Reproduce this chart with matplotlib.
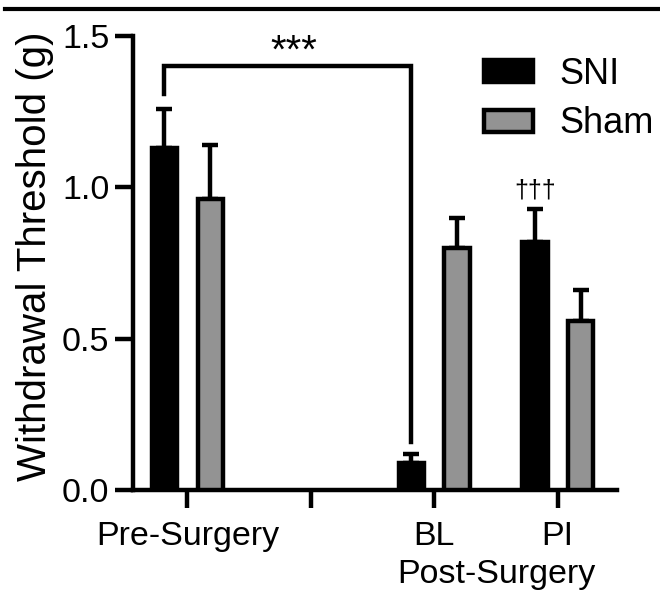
import matplotlib
matplotlib.use("Agg")
import matplotlib.pyplot as plt
from matplotlib.patches import Patch
from matplotlib.lines import Line2D
import matplotlib.transforms as mtransforms
import numpy as np

plt.rcParams['font.family'] = ['Liberation Sans', 'DejaVu Sans']

categories = ["Pre-Surgery", "", "BL", "PI"]
cat_positions = [0, 2, 3]          # Pre-Surgery, BL, PI (slot 1 is an empty gap)
sni_mean = [1.13, 0.09, 0.82]
sni_sem = [0.13, 0.03, 0.11]
sham_mean = [0.96, 0.80, 0.56]
sham_sem = [0.18, 0.10, 0.10]
series_labels = ["SNI", "Sham"]
ylabel = "Withdrawal Threshold (g)"
group_label = "Post-Surgery"
yticks = [0.0, 0.5, 1.0, 1.5]
ytick_labels = ["0.0", "0.5", "1.0", "1.5"]

W, H = 660, 595
fig = plt.figure(figsize=(W / 100, H / 100), dpi=100)
ax = fig.add_axes([133 / W, 1 - 490 / H, (617 - 133) / W, (490 - 36) / H])

lw = 3.2
off = 0.185
bw = 0.205
gray = "#939393"
fs = 24.5
x = np.array(cat_positions, dtype=float)

ax.bar(x - off, sni_mean, width=bw, color="black", edgecolor="black", linewidth=lw, zorder=3)
ax.bar(x + off, sham_mean, width=bw, color=gray, edgecolor="black", linewidth=lw, zorder=3)
ax.errorbar(x - off, sni_mean, yerr=[np.zeros(3), sni_sem], fmt="none", ecolor="black",
            elinewidth=lw, capsize=5.5, capthick=lw, zorder=2)
ax.errorbar(x + off, sham_mean, yerr=[np.zeros(3), sham_sem], fmt="none", ecolor="black",
            elinewidth=lw, capsize=5.5, capthick=lw, zorder=2)

ax.set_xlim(-0.44, 3.48)
ax.set_ylim(0, 1.5)
ax.set_yticks(yticks)
ax.set_yticklabels(ytick_labels, fontsize=fs)
ax.set_xticks(range(len(categories)))
ax.set_xticklabels(categories, fontsize=fs)
ax.tick_params(axis="both", width=lw, length=13, pad=4)
ax.tick_params(axis="x", pad=9)
for s in ["top", "right"]:
    ax.spines[s].set_visible(False)
for s in ["left", "bottom"]:
    ax.spines[s].set_linewidth(lw)
    ax.spines[s].set_capstyle("projecting")
ax.set_ylabel(ylabel, fontsize=29)
ax.yaxis.set_label_coords(-0.164, 0.515)

# significance bracket between SNI Pre-Surgery and SNI BL
bx0 = x[0] - off
bx1 = x[1] - off
ytop = 1.40
ax.plot([bx0, bx0, bx1, bx1], [sni_mean[0] + sni_sem[0] + 0.05, ytop, ytop, sni_mean[1] + sni_sem[1] + 0.04],
        color="black", lw=lw, clip_on=False, solid_joinstyle="miter")
ax.text((bx0 + bx1) / 2 + 0.05, ytop - 0.015, "***", ha="center", va="bottom", fontsize=29)
ax.text(x[2] - off, sni_mean[2] + sni_sem[2] + 0.02, "\u2020\u2020\u2020", ha="center", va="bottom", fontsize=18)

# group label under BL / PI
trans = mtransforms.blended_transform_factory(ax.transData, ax.transAxes)
ax.text((x[1] + x[2]) / 2, -0.205, group_label, ha="center", va="baseline", fontsize=fs,
        transform=trans, clip_on=False)

handles = [Patch(facecolor="black", edgecolor="black", linewidth=lw),
           Patch(facecolor=gray, edgecolor="black", linewidth=lw)]
fig.legend(handles, series_labels, loc="upper left", bbox_to_anchor=(484 / W, 1 - 57 / H),
           frameon=False, fontsize=26, handlelength=1.35, handleheight=0.55,
           handletextpad=0.75, labelspacing=0.4, borderpad=0, borderaxespad=0)

# top figure rule
fig.add_artist(Line2D([5 / W, 1], [1 - 9 / H, 1 - 9 / H], color="black", lw=3))

fig.savefig("out.png", dpi=100)
